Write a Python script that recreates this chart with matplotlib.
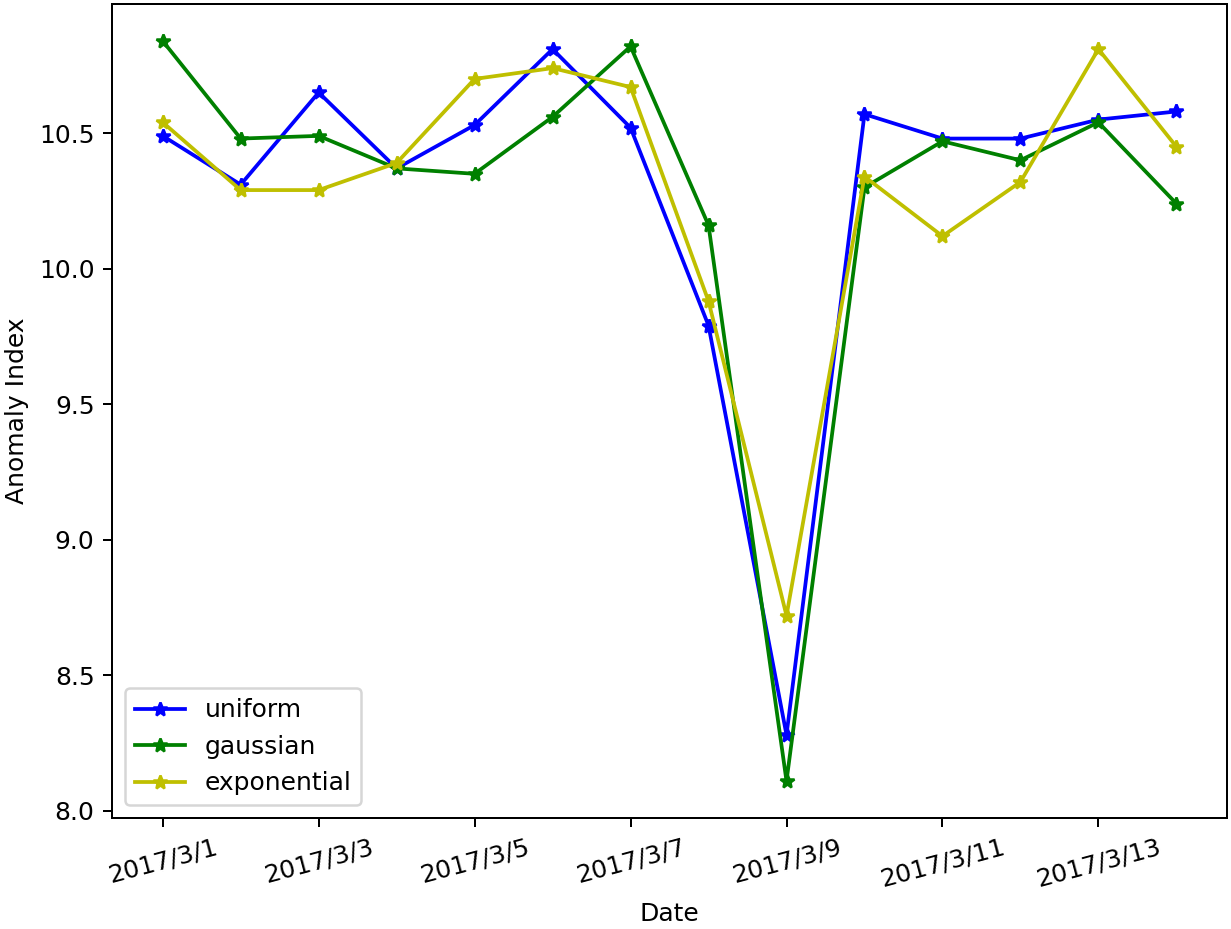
import matplotlib
matplotlib.use('Agg')
import matplotlib.pyplot as plt
import numpy as np

dates = ['2017/3/%d' % d for d in range(1, 15)]

uniform = [10.49, 10.31, 10.65, 10.37, 10.53, 10.81, 10.52,
           9.79, 8.28, 10.57, 10.48, 10.48, 10.55, 10.58]
gaussian = [10.84, 10.48, 10.49, 10.37, 10.35, 10.56, 10.82,
            10.16, 8.11, 10.30, 10.47, 10.40, 10.54, 10.24]
exponential = [10.54, 10.29, 10.29, 10.39, 10.70, 10.74, 10.67,
               9.88, 8.72, 10.34, 10.12, 10.32, 10.81, 10.45]

x = np.arange(len(dates))

DPI = 180
fig, ax = plt.subplots(figsize=(1231 / DPI, 929 / DPI))
fig.subplots_adjust(left=0.091, right=0.9968, top=0.9957, bottom=0.1195)
ax.plot(x, uniform, 'b*-', label='uniform')
ax.plot(x, gaussian, 'g*-', label='gaussian')
ax.plot(x, exponential, 'y*-', label='exponential')

ax.set_xticks(x[::2])
ax.set_xticklabels(dates[::2], rotation=15)
ax.set_xlabel('Date')
ax.set_ylabel('Anomaly Index')
ax.legend(loc='lower left')

plt.savefig('out.png', dpi=DPI)
